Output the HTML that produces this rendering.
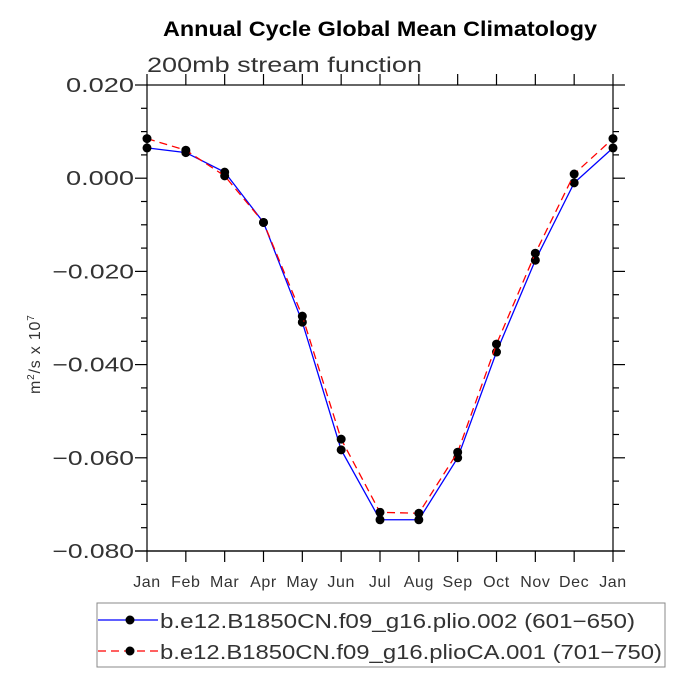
<!DOCTYPE html>
<html><head><meta charset="utf-8"><style>
body{margin:0;background:#fff;}
svg text{font-family:"Liberation Sans",sans-serif;}
</style></head><body>
<svg id="chart" width="687" height="687" viewBox="0 0 687 687" xmlns="http://www.w3.org/2000/svg">
<rect width="687" height="687" fill="#fff"/>
<text x="163" y="36" font-size="21" font-weight="bold" textLength="434" lengthAdjust="spacingAndGlyphs">Annual Cycle Global Mean Climatology</text>
<text x="147" y="72" font-size="21" fill="#333" textLength="275" lengthAdjust="spacingAndGlyphs">200mb stream function</text>
<text transform="translate(40,394) rotate(-90)" font-size="16" fill="#333" letter-spacing="0.8">m<tspan dy="-6" font-size="10">2</tspan><tspan dy="6">/s x 10</tspan><tspan dy="-6" font-size="10">7</tspan></text>
<g id="axes"></g>
<g id="series"></g>
<g>
<rect x="97" y="603" width="568" height="64" fill="#fff" stroke="#888" stroke-width="1"/>
<line x1="98" y1="620" x2="158" y2="620" stroke="#00f" stroke-width="1.3"/>
<circle cx="130" cy="620" r="4.5" fill="#000"/>
<text x="160" y="628" font-size="20" fill="#333" textLength="475" lengthAdjust="spacingAndGlyphs">b.e12.B1850CN.f09_g16.plio.002 (601−650)</text>
<line x1="98" y1="651" x2="158" y2="651" stroke="#f00" stroke-width="1.3" stroke-dasharray="8,5"/>
<circle cx="130" cy="651" r="4.5" fill="#000"/>
<text x="160" y="659" font-size="20" fill="#333" textLength="502" lengthAdjust="spacingAndGlyphs">b.e12.B1850CN.f09_g16.plioCA.001 (701−750)</text>
</g>
</svg>
<script>
const months=["Jan","Feb","Mar","Apr","May","Jun","Jul","Aug","Sep","Oct","Nov","Dec","Jan"];
const plioValues=[0.0065,0.0055,0.0013,-0.0095,-0.0309,-0.0583,-0.0733,-0.0733,-0.0600,-0.0373,-0.0176,-0.0010,0.0065];
const plioCAValues=[0.0085,0.0060,0.0005,-0.0095,-0.0296,-0.0560,-0.0717,-0.0719,-0.0588,-0.0356,-0.0161,0.0009,0.0085];
const yTicks=[0.02,0.0,-0.02,-0.04,-0.06,-0.08];
const yTickLabels=["0.020","0.000","−0.020","−0.040","−0.060","−0.080"];
const NS="http://www.w3.org/2000/svg";
const L=147,R=613,T=85,B=551,yMax=0.02,yMin=-0.08;
function xs(i){return L+(R-L)*i/(months.length-1);}
function ys(v){return T+(yMax-v)/(yMax-yMin)*(B-T);}
function mk(tag,attrs,parent){const e=document.createElementNS(NS,tag);for(const k in attrs)e.setAttribute(k,attrs[k]);parent.appendChild(e);return e;}
const ax=document.getElementById('axes');
const frame=mk('rect',{x:L,y:T,width:R-L,height:B-T,fill:'none',stroke:'#000','stroke-width':1.2},ax);


for(let v=yMax;v>=yMin-1e-9;v-=0.005){
  const y=ys(v);const major=Math.abs(Math.round(v*1000)%20)<1e-6;
  const len=major?12:6;
  mk('line',{x1:L-len,y1:y,x2:L,y2:y,stroke:'#000','stroke-width':1.2},ax);
  mk('line',{x1:R,y1:y,x2:R+len,y2:y,stroke:'#000','stroke-width':1.2},ax);
}
yTicks.forEach((v,i)=>{
  const lab=yTickLabels[i];
  const w=lab.length*13.6;
  const t=mk('text',{x:134-w,y:ys(v)+7,'font-size':20,fill:'#333',textLength:w,lengthAdjust:'spacingAndGlyphs'},ax);
  t.textContent=lab;
  
  
});
months.forEach((m,i)=>{
  const x=xs(i);
  mk('line',{x1:x,y1:B,x2:x,y2:B+11,stroke:'#000','stroke-width':1.2},ax);
  mk('line',{x1:x,y1:T-11,x2:x,y2:T,stroke:'#000','stroke-width':1.2},ax);
  const t=mk('text',{x:x,y:587,'text-anchor':'middle','font-size':16,fill:'#333','letter-spacing':0.6},ax);
  t.textContent=m;
  
  
});
mk('line',{x1:L-12,y1:B,x2:R+12,y2:B,stroke:'#000','stroke-width':1.2},ax);
const sg=document.getElementById('series');
function drawSeries(vals,color,dash,name){
  const g=mk('g',{},sg);
  
  
  const p=mk('polyline',{points:vals.map((v,i)=>xs(i)+','+ys(v)).join(' '),fill:'none',stroke:color,'stroke-width':1.3},g);
  if(dash)p.setAttribute('stroke-dasharray',dash);
  
  
  vals.forEach((v,i)=>{
    const c=mk('circle',{cx:xs(i),cy:ys(v),r:4.5,fill:'#000'},g);
    
    
  });
}
drawSeries(plioValues,'#00f',null,'plio-series');
drawSeries(plioCAValues,'#f00','8,5','plioca-series');
</script>
</body></html>
